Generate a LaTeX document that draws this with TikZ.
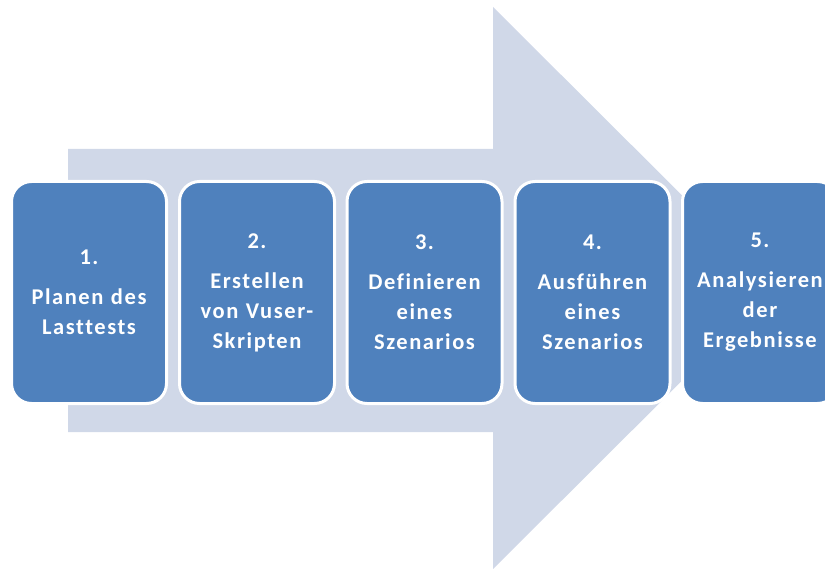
\documentclass[tikz,border=0pt]{standalone}
\usepackage{fontspec}
\setmainfont{Carlito}
\newfontfamily\stepfont[LetterSpace=7,Ligatures=NoCommon]{Carlito}
\definecolor{stepblue}{HTML}{4F81BD}
\definecolor{arrowfill}{HTML}{D0D8E8}
\begin{document}
\begin{tikzpicture}[x=1pt,y=-1pt,
  stepbox/.style={rectangle, rounded corners=20pt, fill=stepblue, draw=white,
    line width=3pt, minimum width=155pt, minimum height=222pt,
    text width=150pt, align=center, text=white, inner sep=0pt,
    font=\stepfont\fontsize{22.5}{30}\selectfont\bfseries}]
\useasboundingbox (0,0) rectangle (825,569);
\clip (0,0) rectangle (825,569);
% large background arrow
\fill[arrowfill] (68,149) -- (493,149) -- (493,7) -- (775,288)
  -- (493,569) -- (493,432) -- (68,432) -- cycle;
% process steps
\node[stepbox] (s1) at (89,292.5) {1.\\[10pt]Planen des\\Lasttests};
\node[stepbox] (s2) at (257,292.5) {2.\\[10pt]Erstellen\\von Vuser-\\Skripten};
\node[stepbox] (s3) at (424.5,292.5) {3.\\[10pt]Definieren\\eines\\Szenarios};
\node[stepbox] (s4) at (592.5,292.5) {4.\\[10pt]Ausführen\\eines\\Szenarios};
\node[stepbox] (s5) at (760,292.5) {5.\\[10pt]Analysieren\\der\\Ergebnisse};
\end{tikzpicture}
\end{document}
